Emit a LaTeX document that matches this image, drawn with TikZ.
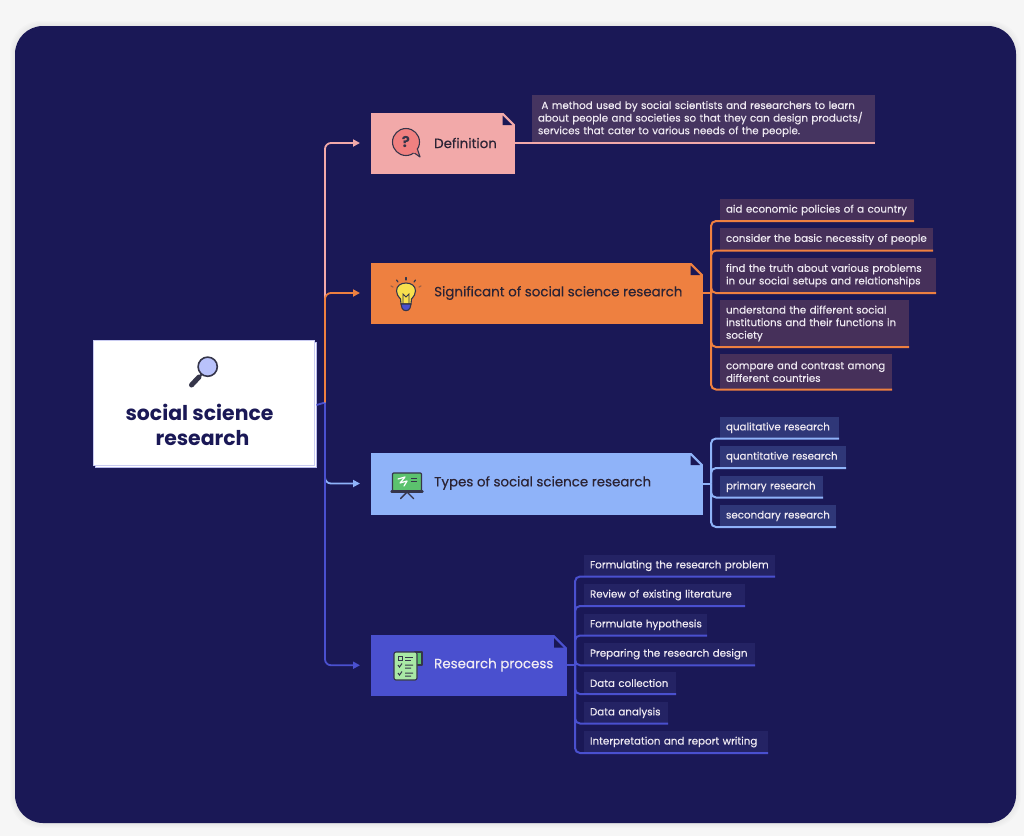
\documentclass[tikz,border=0pt]{standalone}
\usepackage{fontspec}
\setmainfont{Poppins}
\newfontfamily\leaffont[FakeBold=0.35]{Poppins}
\usetikzlibrary{arrows.meta}
\definecolor{pagebg}{HTML}{F6F6F6}
\definecolor{panel}{HTML}{1A1856}
\definecolor{cpink}{HTML}{F2A9A9}
\definecolor{corange}{HTML}{EE8040}
\definecolor{clight}{HTML}{8FB3F9}
\definecolor{cblue}{HTML}{4A50CF}
\definecolor{lpink}{HTML}{453460}
\definecolor{lorange}{HTML}{46305A}
\definecolor{llight}{HTML}{2F3778}
\definecolor{lblue}{HTML}{242364}
\definecolor{leaftext}{HTML}{EFEAF2}
\definecolor{inkdark}{HTML}{2B2334}
\definecolor{iconink}{HTML}{35354A}
\definecolor{qred}{HTML}{F08080}
\definecolor{bulbyellow}{HTML}{F8E04E}
\definecolor{glassblue}{HTML}{B9C2FB}
\definecolor{boardgreen}{HTML}{5CC26E}
\definecolor{listgreen}{HTML}{A9E8A5}
\tikzset{
  x=1pt,y=-1pt,
  cardbox/.style={inner sep=0pt,outer sep=0pt},
  cardlabel/.style={anchor=west,inner sep=0pt,font=\leaffont\fontsize{13.4}{15}\selectfont},
  leafbox/.style={anchor=north west,inner xsep=6pt,inner ysep=0pt,outer sep=0pt,align=left,
    text=leaftext,font=\leaffont\fontsize{10.3}{12.6}\selectfont},
  branch/.style={line width=2pt,rounded corners=5pt},
  trunk/.style={line width=1.8pt,rounded corners=6pt,shorten >=11pt,-{Triangle[length=7pt,width=7pt]}},
  iconline/.style={draw=iconink,line width=1.1pt,line join=round,line cap=round},
}
% name, x1, y1, x2, y2, colour
\newcommand{\cardshape}[6]{%
  \node[cardbox,fill=#6,minimum width={#4pt-#2pt},minimum height={#5pt-#3pt},anchor=north west] (#1) at (#2,#3) {};
  \fill[panel] (#4-12.5,#3-.5) -- (#4+.5,#3-.5) -- (#4+.5,#3+12.5) -- cycle;
  \fill[panel] (#4-12.5,#3+3) -- (#4-12.5,#3+12.5) -- (#4-3,#3+12.5) -- cycle;
}
% name, x1, y1, x2, y2, fill, text
\newcommand{\leafnode}[7]{%
  \node[leafbox,fill=#6,minimum width={#4pt-#2pt},minimum height={#5pt-#3pt},text width={#4pt-#2pt-12pt}] (#1) at (#2,#3) {#7};
}
\begin{document}
\begin{tikzpicture}
\useasboundingbox (0,0) rectangle (1024,836);
\fill[pagebg] (0,0) rectangle (1024,836);
\foreach \g in {5,4,3,2,1}{
  \fill[black,fill opacity=.012,rounded corners=30pt] (15-\g,26-\g) rectangle (1016+\g,823+\g);
}
\fill[panel,rounded corners=28pt] (15,26) rectangle (1016,823);

% central topic
\node[cardbox,fill=white,draw=white!60!cblue,line width=.8pt,minimum width=221pt,minimum height=125pt,anchor=north west] (rootback) at (95.5,342.5) {};
\node[cardbox,fill=white,draw=white!70!cblue,line width=.8pt,minimum width=221pt,minimum height=125pt,anchor=north west] (root) at (93,340) {};
\node[inner sep=0pt,align=center,text=panel,font=\fontsize{20.4}{25}\selectfont\bfseries] (roottext) at (201,424.5) {social science\hspace*{3pt}\\\hspace*{3pt}research};

% main topic cards
\cardshape{def}{371}{112.5}{515}{173.5}{cpink}
\cardshape{sig}{371}{262.5}{703}{323.5}{corange}
\cardshape{typ}{371}{452.5}{703}{514.5}{clight}
\cardshape{pro}{371}{635}{566.5}{695.5}{cblue}
\node[cardlabel,text=inkdark] (deflabel) at (434,143) {Definition};
\node[cardlabel,text=inkdark] (siglabel) at (434,293) {Significant of social science research};
\node[cardlabel,text=inkdark] (typlabel) at (434,483) {Types of social science research};
\node[cardlabel,text=leaftext] (prolabel) at (434,665) {Research process};

% trunk connectors
\coordinate (trk) at (325,402.5);
\draw[cblue,line width=1.8pt] (rootback.east) -- (trk);
\draw[trunk,cpink] (trk) |- (def.west);
\draw[trunk,corange] (trk) |- (sig.west);
\draw[trunk,clight] (trk) |- (typ.west);
\draw[trunk,cblue] (trk) |- (pro.west);

% definition leaf
\leafnode{d1}{532}{95}{875}{143}{lpink}{\ A method used by social scientists and researchers to learn\\about people and societies so that they can design products/\\services that cater to various needs of the people.}
\draw[line width=2pt,cpink] (def.east) -- (d1.south east);

% significant leaves
\leafnode{s1}{720}{199}{914}{221}{lorange}{aid economic policies of a country}
\leafnode{s2}{720}{228}{933}{250.5}{lorange}{consider the basic necessity of people}
\leafnode{s3}{720}{258}{936}{293}{lorange}{find the truth about various problems\\in our social setups and relationships}
\leafnode{s4}{720}{300}{909}{347}{lorange}{understand the different social\\institutions and their functions in\\society}
\leafnode{s5}{720}{354}{892}{389.5}{lorange}{compare and contrast among\\different countries}
\coordinate (sigj) at (711,293);
\draw[branch,corange] (sig.east) -- (sigj);
\foreach \n in {s1,s2,s3,s4,s5}{\draw[branch,corange] (sigj) |- (\n.south east);}

% types leaves
\leafnode{t1}{720}{417}{839}{438.5}{llight}{qualitative research}
\leafnode{t2}{720}{446}{846}{468}{llight}{quantitative research}
\leafnode{t3}{720}{476}{823}{497.5}{llight}{primary research}
\leafnode{t4}{720}{505}{836}{527}{llight}{secondary research}
\coordinate (typj) at (711,483.5);
\draw[branch,clight] (typ.east) -- (typj);
\foreach \n in {t1,t2,t3,t4}{\draw[branch,clight] (typj) |- (\n.south east);}

% process leaves
\leafnode{p1}{584}{555}{775}{576.5}{lblue}{Formulating the research problem}
\leafnode{p2}{584}{584}{745}{606}{lblue}{Review of existing literature}
\leafnode{p3}{584}{614}{707}{635.5}{lblue}{\mbox{Formulate hypothesis}}
\leafnode{p4}{584}{643}{755}{665.25}{lblue}{Preparing the research design}
\leafnode{p5}{584}{672}{676}{694}{lblue}{Data collection}
\leafnode{p6}{584}{702}{668}{723.5}{lblue}{Data analysis}
\leafnode{p7}{584}{731}{768}{753}{lblue}{Interpretation and report writing}
\coordinate (proj) at (575,665.25);
\draw[branch,cblue] (pro.east) -- (proj);
\foreach \n in {p1,p2,p3,p4,p5,p6,p7}{\draw[branch,cblue] (proj) |- (\n.south east);}

% magnifier
\draw[iconink,line width=5pt,line cap=round] (191.5,385) -- (199,377);
\draw[iconink,line width=2pt] (199,377) -- (202,374);
\draw[iconline,fill=glassblue,line width=1.6pt] (207.7,366.7) circle (9.6);

% question bubble
\draw[iconline,fill=qred] (413,152) -- (420,157) -- (417,148);
\draw[iconline,fill=qred] (406,142) circle (13.5);
\fill[qred] (414.5,150.5) circle (2.6);
\node[inner sep=0pt,text=iconink,font=\fontsize{15}{15}\selectfont\bfseries] (q) at (406,142) {?};

% bulb
\begin{scope}[yshift=-2pt]
\draw[iconline,fill=bulbyellow] (401,302) -- (400.5,297) .. controls (398,294) and (396.5,292) .. (396.5,289)
  .. controls (396.5,283.5) and (401,281) .. (406,281) .. controls (411,281) and (415.5,283.5) .. (415.5,289)
  .. controls (415.5,292) and (414,294) .. (411.5,297) -- (411,302) -- cycle;
\draw[iconink,line width=.8pt] (403,302) -- (403,292) -- (406,295) -- (409,292) -- (409,302);
\draw[iconline,fill=cblue] (401,302) -- (411,302) -- (410,306) .. controls (409,309.5) and (403,309.5) .. (402,306) -- cycle;
\draw[iconink,line width=1.2pt,line cap=round] (406,278) -- (406,275.5);
\draw[iconink,line width=1.2pt,line cap=round] (398,280) -- (396.5,278);
\draw[iconink,line width=1.2pt,line cap=round] (414,280) -- (415.5,278);
\draw[corange!60!iconink,line width=1.2pt,line cap=round] (393,285) -- (391,284);
\draw[corange!60!iconink,line width=1.2pt,line cap=round] (419,285) -- (421,284);
\end{scope}

% teaching board
\draw[iconline,fill=boardgreen,rounded corners=1pt] (392.5,473) rectangle (421.5,491);
\draw[white,line width=1.2pt,line cap=round,line join=round] (398,479) -- (405,477) -- (400,483) -- (407,481) -- (404,486);
\draw[iconink,line width=.9pt] (411,478) -- (417,478) (411,481) -- (417,481);
\draw[iconink,line width=2.4pt,line cap=round] (391.5,491.5) -- (422.5,491.5);
\draw[iconink,line width=1.4pt,line cap=round] (407,492) -- (400.5,498.5) (407,492) -- (413.5,498.5);

% checklist
\draw[iconline,fill=boardgreen] (415,652) rectangle (422,665);
\draw[iconline,fill=listgreen,rounded corners=2pt] (394,652) rectangle (417,680);
\draw[iconink,line width=.9pt] (398,656.5) rectangle (402,660.5);
\draw[iconink,line width=1pt] (405,657) -- (413,657) (405,660) -- (411,660);
\draw[iconink,line width=1pt] (398,665) -- (399.5,667) -- (402,663.5) (405,665) -- (413,665) (405,668) -- (411,668);
\draw[iconink,line width=1pt] (398,673) -- (399.5,675) -- (402,671.5) (405,673) -- (413,673) (405,676) -- (411,676);
\end{tikzpicture}
\end{document}
